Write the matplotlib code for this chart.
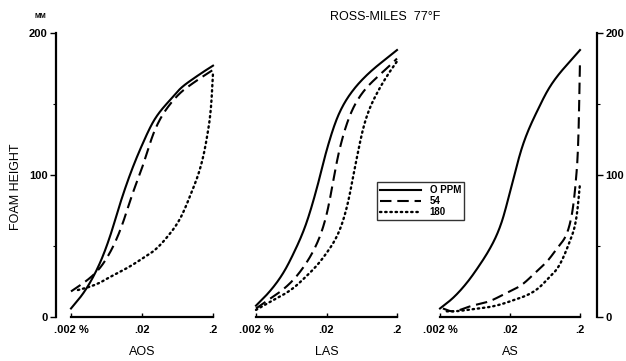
import numpy as np
import matplotlib
matplotlib.use("Agg")
import matplotlib.pyplot as plt
from matplotlib.ticker import FixedLocator, NullLocator
from matplotlib.lines import Line2D

plt.rcParams['font.family'] = ['Liberation Sans', 'DejaVu Sans']

# ---------------- data ----------------
series_labels = ["O PPM", "54", "180"]
panel_names = ["AOS", "LAS", "AS"]
xtick_vals = [0.002, 0.02, 0.2]
xtick_labels = [".002 %", ".02", ".2"]
ytick_vals = [0, 100, 200]

# AOS
aos_0_x = [0.002, 0.003, 0.005, 0.007, 0.01, 0.015, 0.02, 0.03, 0.05, 0.07, 0.1, 0.15, 0.2]
aos_0_y = [6, 17, 37, 56, 81, 106, 121, 139, 153, 161, 167, 173, 177]
aos_54_x = [0.002, 0.003, 0.005, 0.007, 0.01, 0.015, 0.02, 0.03, 0.05, 0.07, 0.1, 0.15, 0.2]
aos_54_y = [18, 24, 34, 45, 62, 88, 105, 131, 150, 158, 164, 170, 174]
aos_180_x = [0.0025, 0.003, 0.005, 0.007, 0.01, 0.015, 0.02, 0.03, 0.05, 0.07, 0.1, 0.15, 0.17, 0.19, 0.2]
aos_180_y = [19, 20, 24, 28, 32, 37, 41, 47, 59, 70, 88, 116, 131, 152, 172]

# LAS
las_0_x = [0.002, 0.003, 0.005, 0.007, 0.01, 0.015, 0.02, 0.03, 0.05, 0.07, 0.1, 0.15, 0.2]
las_0_y = [8, 17, 32, 46, 64, 93, 117, 143, 161, 169, 176, 183, 188]
las_54_x = [0.002, 0.003, 0.005, 0.007, 0.01, 0.015, 0.02, 0.03, 0.05, 0.07, 0.1, 0.15, 0.2]
las_54_y = [6, 12, 20, 27, 37, 53, 72, 116, 149, 160, 168, 176, 182]
las_180_x = [0.002, 0.003, 0.005, 0.007, 0.01, 0.015, 0.02, 0.03, 0.04, 0.05, 0.07, 0.1, 0.15, 0.2]
las_180_y = [5, 10, 16, 21, 28, 37, 45, 60, 80, 104, 137, 156, 171, 180]

# AS
as_0_x = [0.002, 0.003, 0.005, 0.007, 0.01, 0.015, 0.02, 0.03, 0.05, 0.07, 0.1, 0.15, 0.2]
as_0_y = [6, 13, 25, 35, 47, 66, 88, 120, 146, 160, 171, 181, 188]
as_54_x = [0.0022, 0.003, 0.005, 0.007, 0.01, 0.015, 0.02, 0.03, 0.05, 0.07, 0.1, 0.15, 0.18, 0.19, 0.2]
as_54_y = [6, 4, 7, 9, 11, 15, 18, 23, 33, 40, 50, 70, 104, 128, 181]
as_180_x = [0.0025, 0.003, 0.005, 0.007, 0.01, 0.015, 0.02, 0.03, 0.05, 0.07, 0.1, 0.15, 0.18, 0.2]
as_180_y = [4, 4, 5, 6, 7, 9, 11, 14, 20, 27, 36, 56, 72, 94]

panels = [
    [(aos_0_x, aos_0_y), (aos_54_x, aos_54_y), (aos_180_x, aos_180_y)],
    [(las_0_x, las_0_y), (las_54_x, las_54_y), (las_180_x, las_180_y)],
    [(as_0_x, as_0_y), (as_54_x, as_54_y), (as_180_x, as_180_y)],
]


def pchip_curve(x, y, xn):
    h = np.diff(x)
    delta = np.diff(y) / h
    m = len(x)
    d = np.zeros(m)
    for k in range(1, m - 1):
        if delta[k - 1] * delta[k] > 0:
            w1 = 2 * h[k] + h[k - 1]
            w2 = h[k] + 2 * h[k - 1]
            d[k] = (w1 + w2) / (w1 / delta[k - 1] + w2 / delta[k])
    d[0] = delta[0]
    d[-1] = delta[-1]
    idx = np.clip(np.searchsorted(x, xn) - 1, 0, m - 2)
    t = (xn - x[idx]) / h[idx]
    return ((2 * t**3 - 3 * t**2 + 1) * y[idx] + (t**3 - 2 * t**2 + t) * h[idx] * d[idx]
            + (-2 * t**3 + 3 * t**2) * y[idx + 1] + (t**3 - t**2) * h[idx] * d[idx + 1])


def natural_spline(x, y, xn):
    m = len(x)
    h = np.diff(x)
    A = np.zeros((m, m))
    b = np.zeros(m)
    A[0, 0] = A[-1, -1] = 1
    for k in range(1, m - 1):
        A[k, k - 1] = h[k - 1]
        A[k, k] = 2 * (h[k - 1] + h[k])
        A[k, k + 1] = h[k]
        b[k] = 6 * ((y[k + 1] - y[k]) / h[k] - (y[k] - y[k - 1]) / h[k - 1])
    M = np.linalg.solve(A, b)
    idx = np.clip(np.searchsorted(x, xn) - 1, 0, m - 2)
    x0, x1 = x[idx], x[idx + 1]
    hh = h[idx]
    return (M[idx] * (x1 - xn) ** 3 / (6 * hh) + M[idx + 1] * (xn - x0) ** 3 / (6 * hh)
            + (y[idx] / hh - M[idx] * hh / 6) * (x1 - xn)
            + (y[idx + 1] / hh - M[idx + 1] * hh / 6) * (xn - x0))


def smooth_curve(xs, ys, n=400):
    """Smooth curve through the read points, computed in log-x."""
    x = np.log10(np.asarray(xs, float))
    y = np.asarray(ys, float)
    xn = np.linspace(x[0], x[-1], n)
    ys_c2 = natural_spline(x, y, xn)
    ys_mono = pchip_curve(x, y, xn)
    # blend: C2 spline where well-behaved, monotone version as safety net
    dev = np.abs(ys_c2 - ys_mono)
    yn = np.where(dev < 4, 0.6 * ys_c2 + 0.4 * ys_mono, ys_mono)
    return 10 ** xn, yn


# ---------------- layout ----------------
W, H = 626, 361
fig = plt.figure(figsize=(W / 100, H / 100), dpi=100)
fig.patch.set_facecolor("white")

# pixel geometry: (axes left px, axes right px, px of .002, px of .2)
geom = [(56, 216, 71, 213), (250, 401, 256, 397), (436, 597, 440, 580)]
top_px, bot_px = 33, 317

styles = [
    dict(color="black", lw=1.5, ls="-"),
    dict(color="black", lw=1.5, ls=(0, (5.5, 2.8))),
    dict(color="black", lw=1.7, ls=(0, (0.6, 1.6)), dash_capstyle="round"),
]

axes = []
for i, (L, R, p002, p2) in enumerate(geom):
    ax = fig.add_axes([L / W, (H - bot_px) / H, (R - L) / W, (bot_px - top_px) / H])
    d = (p2 - p002) / 2.0
    xl = 0.002 * 10 ** ((L - p002) / d)
    xr = 0.2 * 10 ** ((R - p2) / d)
    ax.set_xscale("log")
    ax.set_xlim(xl, xr)
    ax.set_ylim(0, 200)
    ax.patch.set_alpha(0)
    for (xs, ys), st in zip(panels[i], styles):
        sx, sy = smooth_curve(xs, ys)
        ax.plot(sx, sy, **st)
    for s in ["top", "right", "left"]:
        ax.spines[s].set_visible(False)
    ax.spines["bottom"].set_bounds(0.002, 0.2)
    ax.spines["bottom"].set_linewidth(1.6)
    ax.xaxis.set_major_locator(FixedLocator(xtick_vals))
    ax.xaxis.set_minor_locator(NullLocator())
    ax.set_xticklabels(xtick_labels)
    ax.tick_params(axis="x", direction="in", length=3, width=1.0, pad=6,
                   labelsize=8)
    for lab in ax.get_xticklabels():
        lab.set_fontweight("bold")
    ax.text(0.02, -35 / (bot_px - top_px), panel_names[i],
            transform=ax.get_xaxis_transform(), ha="center", va="center",
            fontsize=9)
    if i == 0:
        ax.spines["left"].set_visible(True)
        ax.spines["left"].set_linewidth(1.6)
        ax.yaxis.set_ticks_position("left")
    elif i == 2:
        ax.spines["right"].set_visible(True)
        ax.spines["right"].set_linewidth(1.6)
        ax.yaxis.tick_right()
    if i in (0, 2):
        ax.yaxis.set_major_locator(FixedLocator(ytick_vals))
        ax.yaxis.set_minor_locator(FixedLocator([50, 150]))
        ax.tick_params(axis="y", which="major", direction="out", length=4,
                       width=1.0, pad=2, labelsize=8)
        ax.tick_params(axis="y", which="minor", direction="out", length=2, width=0.8)
        for lab in ax.get_yticklabels():
            lab.set_fontweight("bold")
    else:
        ax.set_yticks([])
    axes.append(ax)

# legend in the middle panel
handles = [Line2D([], [], **st) for st in styles]
L1, R1 = geom[1][0], geom[1][1]
leg = axes[1].legend(handles, series_labels, loc="upper left",
                     bbox_to_anchor=((377 - L1) / (R1 - L1),
                                     (bot_px - 182) / (bot_px - top_px)),
                     frameon=True, fancybox=False, fontsize=7, handlelength=4.2,
                     handletextpad=0.9, borderpad=0.3, labelspacing=0.12,
                     borderaxespad=0)
leg.get_frame().set_edgecolor("black")
leg.get_frame().set_linewidth(1.0)
for t in leg.get_texts():
    t.set_fontweight("bold")

fig.text(385 / W, 1 - 17 / H, "ROSS-MILES  77°F", ha="center", va="center", fontsize=9)
fig.text(40 / W, 1 - 17 / H, "MM", ha="center", va="center", fontsize=5, fontweight="bold")
fig.text(16 / W, 1 - 187 / H, "FOAM HEIGHT", ha="center", va="center",
         rotation=90, fontsize=9)

fig.savefig("out.png", dpi=100, facecolor="white")
